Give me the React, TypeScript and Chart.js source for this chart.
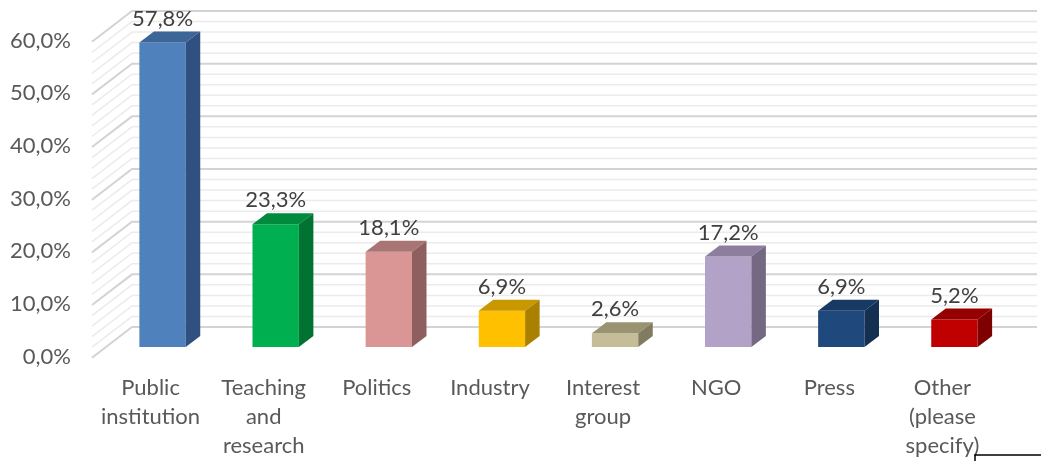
import React, { useEffect, useRef } from "react";
import { Chart, registerables } from "chart.js";

Chart.register(...registerables);

// ---- data ----
const categories: string[][] = [
  ["Public", "institution"],
  ["Teaching", "and", "research"],
  ["Politics"],
  ["Industry"],
  ["Interest", "group"],
  ["NGO"],
  ["Press"],
  ["Other", "(please", "specify)"],
];
const shares: number[] = [57.8, 23.3, 18.1, 6.9, 2.6, 17.2, 6.9, 5.2];
const yTicks: number[] = [0, 10, 20, 30, 40, 50, 60];
const minorStep = 2;

// ---- styles ----
const frontColors = ["#4F81BD", "#00B050", "#D99694", "#FFC000", "#C4BD97", "#B3A2C7", "#1F497D", "#C00000"];
const topColors = ["#3C6598", "#008A3E", "#A97574", "#C99700", "#999372", "#8C7E9C", "#173A64", "#960000"];
const sideColors = ["#2F5080", "#007232", "#8E5F5E", "#AA8000", "#817C60", "#756883", "#132F52", "#7E0000"];

const BAR_DX = 14.5, BAR_DY = -11;
const WALL_DX = 26, WALL_DY = -20;
const FRONT_DX = -14, FRONT_DY = 10.7;

const fmt = (v: number) => v.toFixed(1).replace(".", ",") + "%";

const wallPlugin = {
  id: "wall3d",
  beforeDatasetsDraw(chart: any) {
    const { ctx, chartArea, scales } = chart;
    const y = scales.y;
    ctx.save();
    const maxV = yTicks[yTicks.length - 1];
    for (let v = 0; v <= maxV + 1e-9; v += minorStep) {
      const py = y.getPixelForValue(v);
      const major = Math.abs(v % 10) < 1e-9;
      ctx.strokeStyle = major ? "#d3d3d3" : "#ebebeb";
      ctx.lineWidth = major ? 2 : 1.5;
      ctx.beginPath();
      ctx.moveTo(chartArea.left + FRONT_DX, py + FRONT_DY);
      ctx.lineTo(chartArea.left + WALL_DX, py + WALL_DY);
      ctx.lineTo(chartArea.right + WALL_DX, py + WALL_DY);
      ctx.stroke();
    }
    ctx.restore();
  },
};

const bar3dPlugin = {
  id: "bar3d",
  afterDatasetsDraw(chart: any) {
    const { ctx } = chart;
    const meta = chart.getDatasetMeta(0);
    ctx.save();
    meta.data.forEach((bar: any, i: number) => {
      const { x, y, base, width } = bar.getProps(["x", "y", "base", "width"], true);
      const l = x - width / 2;
      const r = x + width / 2;
      ctx.fillStyle = topColors[i];
      ctx.beginPath();
      ctx.moveTo(l, y);
      ctx.lineTo(l + BAR_DX, y + BAR_DY);
      ctx.lineTo(r + BAR_DX, y + BAR_DY);
      ctx.lineTo(r, y);
      ctx.closePath();
      ctx.fill();
      ctx.fillStyle = sideColors[i];
      ctx.beginPath();
      ctx.moveTo(r, y);
      ctx.lineTo(r + BAR_DX, y + BAR_DY);
      ctx.lineTo(r + BAR_DX, base + BAR_DY);
      ctx.lineTo(r, base);
      ctx.closePath();
      ctx.fill();
      ctx.fillStyle = "#404040";
      ctx.font = "22px Lato";
      ctx.textAlign = "center";
      ctx.textBaseline = "middle";
      ctx.fillText(fmt(shares[i]), x, y - 24);
    });
    ctx.restore();
  },
};

const framePlugin = {
  id: "frameLine",
  afterDraw(chart: any) {
    const { ctx, width, height } = chart;
    ctx.save();
    ctx.strokeStyle = "#000000";
    ctx.lineWidth = 1.5;
    ctx.beginPath();
    ctx.moveTo(975, height);
    ctx.lineTo(975, 455);
    ctx.lineTo(width, 455);
    ctx.stroke();
    ctx.restore();
  },
};

export default function App() {
  const ref = useRef<HTMLCanvasElement | null>(null);
  useEffect(() => {
    document.body.style.margin = "0";
    const canvas = ref.current!;
    const chart = new Chart(canvas, {
      type: "bar",
      data: {
        labels: categories,
        datasets: [
          {
            data: shares,
            backgroundColor: frontColors,
            borderWidth: 0,
            barPercentage: 0.41,
            categoryPercentage: 1,
          },
        ],
      },
      options: {
        animation: false,
        responsive: false,
        layout: { padding: { top: 31, right: 30, left: 0, bottom: 0 } },
        plugins: { legend: { display: false }, tooltip: { enabled: false } },
        scales: {
          x: {
            grid: { display: false, drawTicks: false },
            border: { display: false },
            ticks: {
              autoSkip: false,
              maxRotation: 0,
              minRotation: 0,
              padding: 26,
              labelOffset: -12,
              color: "#595959",
              font: { family: "Lato", size: 22, lineHeight: 1.32 },
            },
            afterFit: (s: any) => {
              s.height = 114;
              s.paddingLeft = 0;
              s.paddingRight = 0;
            },
          },
          y: {
            min: 0,
            max: 60,
            grid: { display: false, drawTicks: false },
            border: { display: false },
            afterBuildTicks: (s: any) => {
              s.ticks = yTicks.map((v) => ({ value: v }));
            },
            ticks: {
              padding: 35,
              labelOffset: 9.5,
              color: "#595959",
              font: { family: "Lato", size: 22 },
              callback: (v: any) => fmt(Number(v)),
            },
            afterFit: (s: any) => {
              s.width = 106;
              s.paddingTop = 0;
              s.paddingBottom = 0;
            },
          },
        },
      },
      plugins: [wallPlugin, bar3dPlugin, framePlugin],
    });
    return () => chart.destroy();
  }, []);
  return <canvas ref={ref} width={1041} height={461} style={{ display: "block" }} />;
}
